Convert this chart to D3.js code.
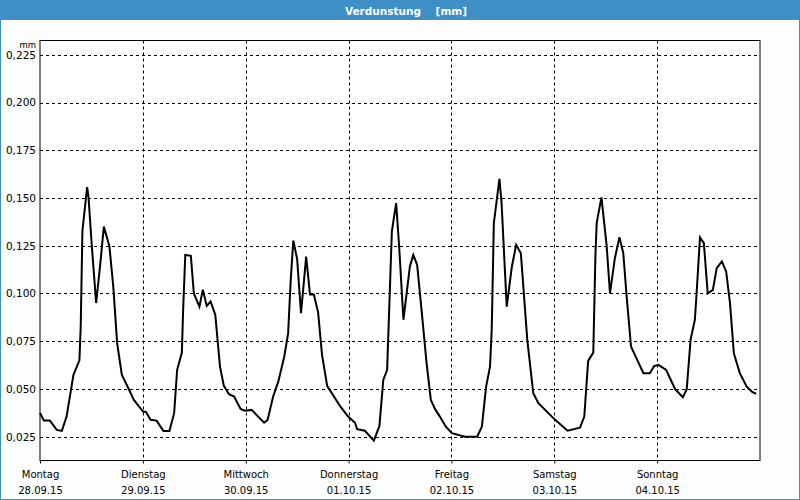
<!DOCTYPE html>
<html>
<head>
<meta charset="utf-8">
<script src="https://cdn.jsdelivr.net/npm/d3@7"></script>
<style>
  body { margin: 0; background: #fff; }
  svg { display: block; font-family: "DejaVu Sans", sans-serif; }
</style>
</head>
<body>
<div id="chart"></div>
<script>
// Evaporation, hours since Monday 28.09.15 00:00
const hours = [0, 0.9, 2.3, 3.9, 5.1, 6.2, 7.8, 9.2, 9.5, 9.9, 11.0, 11.3, 12.1, 13.1, 14.0, 14.9, 16.2, 17.1, 18.0, 19.1, 20.6, 21.9,
  24.1, 24.7, 25.8, 27.2, 28.8, 30.2, 31.3, 32.0, 33.1, 33.4, 33.9, 35.2, 35.9, 37.2, 38.0, 38.9, 39.8, 40.9, 42.0, 42.9, 44.1, 45.3, 46.8, 47.8,
  49.4, 50.9, 52.3, 53.1, 54.4, 55.6, 57.0, 57.9, 58.5, 59.1, 60.0, 60.9, 61.4, 62.1, 63.0, 63.9, 64.9, 65.8, 67.0, 69.1, 70.2, 71.9,
  73.5, 74.0, 75.8, 77.9, 79.2, 80.1, 81.0, 81.5, 82.1, 83.1, 83.8, 84.8, 86.3, 87.1, 88.0, 89.1, 90.2, 91.2, 92.2, 93.3, 94.7,
  96.1, 99.2, 102.0, 103.1, 104.1, 105.0, 105.4, 105.9, 107.2, 107.7, 108.9, 110.1, 111.1, 112.2, 113.7, 115.1, 116.3, 120.2,
  123.1, 126.0, 127.0, 127.9, 129.1, 129.6, 129.9, 131.0, 132.2, 133.0, 134.1, 135.2, 136.1, 136.9, 137.9, 138.8, 140.8, 142.3, 143.3,
  144.3, 146.1, 147.0, 148.2, 150.0, 150.9, 151.8, 152.8, 153.2, 154.0, 154.9, 155.8, 157.0, 157.9, 159.1, 160.1, 161.0, 161.9, 163.3, 164.9, 166.1, 167.1];
const values = [0.0374, 0.0334, 0.0334, 0.0285, 0.0280, 0.0355, 0.0573, 0.0650, 0.0827, 0.1330, 0.1557, 0.1510, 0.1246, 0.0950, 0.1140, 0.1350, 0.1246, 0.1036, 0.0740, 0.0573, 0.0505, 0.0442,
  0.0380, 0.0380, 0.0338, 0.0334, 0.0280, 0.0280, 0.0373, 0.0600, 0.0690, 0.0914, 0.1202, 0.1197, 0.1000, 0.0931, 0.1020, 0.0935, 0.0958, 0.0888, 0.0617, 0.0516, 0.0472, 0.0460, 0.0395, 0.0386,
  0.0390, 0.0355, 0.0323, 0.0337, 0.0460, 0.0538, 0.0670, 0.0792, 0.1070, 0.1277, 0.1180, 0.0897, 0.1019, 0.1193, 0.0995, 0.0995, 0.0900, 0.0680, 0.0516, 0.0442, 0.0404, 0.0355,
  0.0323, 0.0289, 0.0281, 0.0229, 0.0306, 0.0547, 0.0600, 0.0931, 0.1325, 0.1473, 0.1246, 0.0862, 0.1140, 0.1202, 0.1150, 0.0897, 0.0635, 0.0442, 0.0394, 0.0355, 0.0302,
  0.0268, 0.0250, 0.0250, 0.0302, 0.0512, 0.0617, 0.0810, 0.1369, 0.1600, 0.1473, 0.0931, 0.1140, 0.1255, 0.1211, 0.0757, 0.0477, 0.0425, 0.0338,
  0.0281, 0.0297, 0.0355, 0.0647, 0.0690, 0.1200, 0.1370, 0.1503, 0.1255, 0.1000, 0.1180, 0.1295, 0.1211, 0.0980, 0.0722, 0.0678, 0.0582, 0.0582, 0.0620,
  0.0626, 0.0600, 0.0556, 0.0498, 0.0456, 0.0498, 0.0757, 0.0862, 0.1000, 0.1293, 0.1264, 0.1000, 0.1019, 0.1133, 0.1168, 0.1115, 0.0949, 0.0687, 0.0582, 0.0512, 0.0486, 0.0474];

const dayNames = ["Montag", "Dienstag", "Mittwoch", "Donnerstag", "Freitag", "Samstag", "Sonntag"];
const dayDates = ["28.09.15", "29.09.15", "30.09.15", "01.10.15", "02.10.15", "03.10.15", "04.10.15"];
const yTicks = [0.025, 0.05, 0.075, 0.1, 0.125, 0.15, 0.175, 0.2, 0.225];

const width = 800, height = 500;
const plotLeft = 40, plotRight = 760, plotTop = 40.5, plotBottom = 460.5;
const start = new Date(2015, 8, 28);

const x = d3.scaleTime()
  .domain([start, d3.timeDay.offset(start, 7)])
  .range([plotLeft, plotRight]);
const y = d3.scaleLinear()
  .domain([0.0125, 0.2325])
  .range([plotBottom, plotTop]);

const svg = d3.select("#chart").append("svg")
  .attr("width", width)
  .attr("height", height);

svg.append("rect").attr("width", width).attr("height", height).attr("fill", "#fcfdfc");

// title bar
svg.append("rect").attr("x", 0).attr("y", 0).attr("width", width).attr("height", 20).attr("fill", "#3e8fc6");
svg.append("text")
  .attr("x", 406).attr("y", 14.5)
  .attr("text-anchor", "middle")
  .attr("fill", "#fff")
  .attr("font-size", "10.5px")
  .attr("font-weight", "bold")
  .attr("xml:space", "preserve")
  .text("Verdunstung    [mm]");

// outer blue border
svg.append("rect").attr("x", 0.5).attr("y", 0.5).attr("width", width - 1).attr("height", height - 1)
  .attr("fill", "none").attr("stroke", "#3e8fc6");

svg.append("rect").attr("x", plotLeft).attr("y", plotTop).attr("width", plotRight - plotLeft)
  .attr("height", plotBottom - plotTop).attr("fill", "#fff");

const dayTicks = d3.range(7).map(i => d3.timeDay.offset(start, i));

// grid
svg.append("g").selectAll("line").data(yTicks).join("line")
  .attr("x1", plotLeft).attr("x2", plotRight)
  .attr("y1", d => Math.round(y(d)) + 0.5).attr("y2", d => Math.round(y(d)) + 0.5)
  .attr("stroke", "#000").attr("stroke-dasharray", "3,3");
svg.append("g").selectAll("line").data(dayTicks.slice(1)).join("line")
  .attr("x1", d => Math.round(x(d)) + 0.5).attr("x2", d => Math.round(x(d)) + 0.5)
  .attr("y1", plotTop).attr("y2", plotBottom)
  .attr("stroke", "#000").attr("stroke-dasharray", "3,3");

// axes
const yAxis = d3.axisLeft(y).tickValues(yTicks).tickSize(0).tickPadding(4)
  .tickFormat(d => d3.format(".3f")(d).replace(".", ","));
svg.append("g").attr("transform", `translate(${plotLeft},0)`).call(yAxis)
  .call(g => g.select(".domain").remove())
  .call(g => g.selectAll("text").attr("font-size", "10.5px").attr("fill", "#000").attr("font-family", "DejaVu Sans"));

svg.append("text").attr("x", 36).attr("y", 48).attr("text-anchor", "end")
  .attr("font-size", "8.5px").text("mm");

const xAxis = d3.axisBottom(x).tickValues(dayTicks).tickSize(3).tickFormat(() => "");
const xg = svg.append("g").attr("transform", `translate(0,${plotBottom})`).call(xAxis);
xg.select(".domain").remove();
xg.selectAll("text").remove();
xg.selectAll(".tick")
  .each(function(d, i) {
    const t = d3.select(this);
    t.append("text").attr("y", 17).attr("text-anchor", "middle").attr("fill", "#000")
      .attr("font-size", "10px").attr("font-family", "DejaVu Sans").text(dayNames[i]);
    t.append("text").attr("y", 33).attr("text-anchor", "middle").attr("fill", "#000")
      .attr("font-size", "10px").attr("font-family", "DejaVu Sans").text(dayDates[i]);
  });

// frame
svg.append("rect").attr("x", plotLeft).attr("y", plotTop).attr("width", plotRight - plotLeft)
  .attr("height", plotBottom - plotTop).attr("fill", "none").attr("stroke", "#000");

// series
const line = d3.line()
  .x((d, i) => x(new Date(start.getTime() + hours[i] * 3600000)))
  .y(d => y(d));
svg.append("path")
  .datum(values)
  .attr("d", line)
  .attr("fill", "none")
  .attr("stroke", "#000")
  .attr("stroke-width", 2)
  .attr("stroke-linejoin", "miter");
</script>
</body>
</html>
